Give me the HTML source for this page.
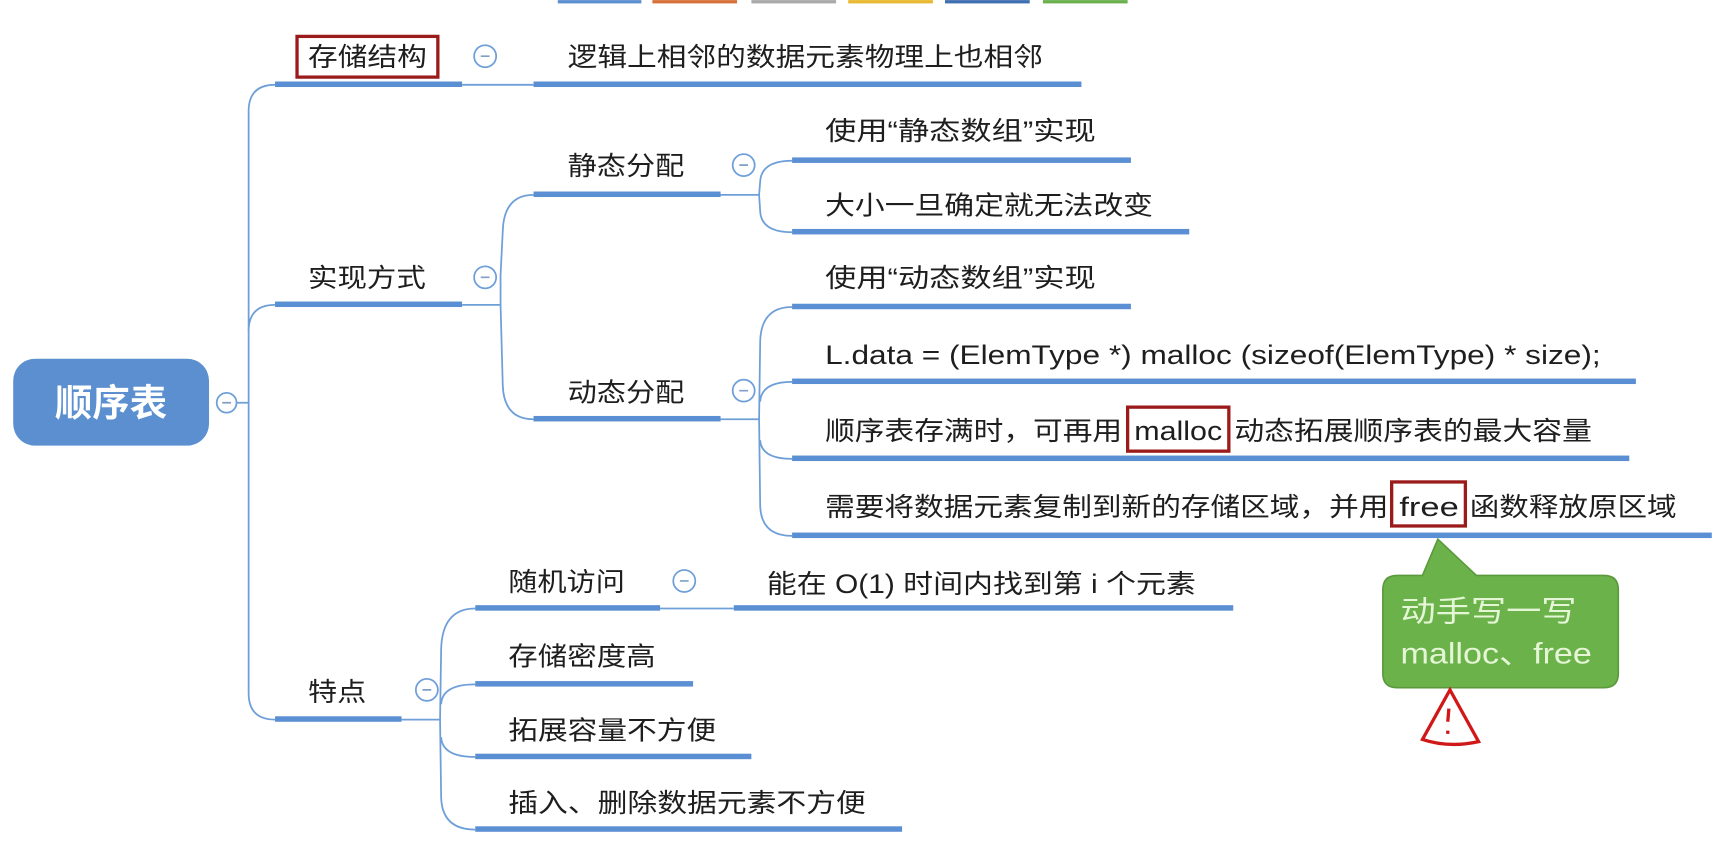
<!DOCTYPE html>
<html><head><meta charset="utf-8"><style>
html,body{margin:0;padding:0;background:#fff;width:1725px;height:844px;overflow:hidden}
svg{display:block}
text{font-family:"Liberation Sans","Noto Sans CJK SC",sans-serif;fill:#1e1e1e;font-size:24px}
</style></head><body>
<svg width="1725" height="844" viewBox="0 0 1568 767" xmlns="http://www.w3.org/2000/svg">
<g>
<rect x="507" y="0" width="76" height="3" fill="#5b8fd0"/>
<rect x="593" y="0" width="77" height="3" fill="#d9703a"/>
<rect x="683" y="0" width="77" height="3" fill="#aaaaaa"/>
<rect x="771" y="0" width="77" height="3" fill="#e8b830"/>
<rect x="859" y="0" width="77" height="3" fill="#3f6fb0"/>
<rect x="948" y="0" width="77" height="3" fill="#6ab04c"/>
</g>
<g fill="none" stroke="#6f9fd8" stroke-width="1.6">
<path d="M215,366 L226,366"/>
<path d="M250,77 Q226,77 226,101 L226,630 Q226,654 250,654"/>
<path d="M226,301 Q226,277 250,277"/>
<path d="M420,77 L485,77"/>
<path d="M420,277 L455,277"/>
<path d="M485,177 Q458,177 457,210 L455,250 Q455,277 455,277 M455,277 L457,350 Q458,381 485,381"/>
<path d="M655,177 L690,177 M720,146 Q692,146 691,165 L690,177 L691,192 Q692,211 720,211"/>
<path d="M655,381 L690,381 M720,279 Q692,279 691,310 L690,381 L691,460 Q692,487 720,487 M720,347 Q692,347 691,365 M720,417 Q692,417 691,400"/>
<path d="M365,654 L400,654 M432,553 Q402,553 401,590 L400,654 L401,725 Q402,754 432,754 M432,622 Q402,622 401,640 M432,688 Q402,688 401,670"/>
<path d="M600,553 L667,553"/>
</g>
<g fill="#5b8fd3">
<rect x="250" y="74" width="170" height="5"/>
<rect x="485" y="74" width="498" height="5"/>
<rect x="250" y="274" width="170" height="5"/>
<rect x="485" y="174" width="170" height="5"/>
<rect x="720" y="143" width="308" height="5"/>
<rect x="720" y="208" width="361" height="5"/>
<rect x="485" y="378" width="170" height="5"/>
<rect x="720" y="276" width="308" height="5"/>
<rect x="720" y="344" width="767" height="5"/>
<rect x="720" y="414" width="761" height="5"/>
<rect x="720" y="484" width="836" height="5"/>
<rect x="250" y="651" width="115" height="5"/>
<rect x="432" y="550" width="168" height="5"/>
<rect x="667" y="550" width="454" height="5"/>
<rect x="432" y="619" width="198" height="5"/>
<rect x="432" y="685" width="251" height="5"/>
<rect x="432" y="751" width="388" height="5"/>
</g>
<rect x="12" y="326" width="178" height="79" rx="20" fill="#5b8fd0"/>
<text x="101" y="378" text-anchor="middle" style="fill:#fff;font-size:34px;font-weight:bold">顺序表</text>
<g fill="#fff" stroke="#6f9fd8" stroke-width="1.6">
<circle cx="206" cy="366" r="9"/><circle cx="441" cy="51" r="10"/><circle cx="441" cy="252" r="10"/>
<circle cx="676" cy="150" r="10"/><circle cx="676" cy="355" r="10"/><circle cx="622" cy="528" r="10"/><circle cx="388" cy="627" r="10"/>
</g>
<g stroke="#7f9fc8" stroke-width="1.5">
<path d="M202,366h8M437,51h8M437,252h8M672,150h8M672,355h8M618,528h8M384,627h8"/>
</g>
<rect x="270" y="33" width="128" height="37" fill="none" stroke="#9b1b1b" stroke-width="3"/>
<rect x="1025" y="370" width="92" height="40" fill="none" stroke="#9b1b1b" stroke-width="3"/>
<rect x="1265" y="438" width="67" height="40" fill="none" stroke="#9b1b1b" stroke-width="3"/>
<text x="280" y="60" textLength="108" lengthAdjust="spacingAndGlyphs">存储结构</text>
<text x="516" y="60" textLength="432" lengthAdjust="spacingAndGlyphs">逻辑上相邻的数据元素物理上也相邻</text>
<text x="280" y="261" textLength="107" lengthAdjust="spacingAndGlyphs">实现方式</text>
<text x="516" y="159" textLength="106" lengthAdjust="spacingAndGlyphs">静态分配</text>
<text x="750" y="127" textLength="246" lengthAdjust="spacingAndGlyphs">使用“静态数组”实现</text>
<text x="750" y="195" textLength="298" lengthAdjust="spacingAndGlyphs">大小一旦确定就无法改变</text>
<text x="516" y="365" textLength="106" lengthAdjust="spacingAndGlyphs">动态分配</text>
<text x="750" y="261" textLength="246" lengthAdjust="spacingAndGlyphs">使用“动态数组”实现</text>
<text x="750" y="331" textLength="705" lengthAdjust="spacingAndGlyphs">L.data = (ElemType *) malloc (sizeof(ElemType) * size);</text>
<text x="750" y="400" textLength="270" lengthAdjust="spacingAndGlyphs">顺序表存满时，可再用</text>
<text x="1031" y="400" textLength="80" lengthAdjust="spacingAndGlyphs">malloc</text>
<text x="1122" y="400" textLength="325" lengthAdjust="spacingAndGlyphs">动态拓展顺序表的最大容量</text>
<text x="750" y="469" textLength="512" lengthAdjust="spacingAndGlyphs">需要将数据元素复制到新的存储区域，并用</text>
<text x="1272" y="469" textLength="54" lengthAdjust="spacingAndGlyphs">free</text>
<text x="1336" y="469" textLength="188" lengthAdjust="spacingAndGlyphs">函数释放原区域</text>
<text x="280" y="637" textLength="53" lengthAdjust="spacingAndGlyphs">特点</text>
<text x="462" y="537" textLength="106" lengthAdjust="spacingAndGlyphs">随机访问</text>
<text x="697" y="539" textLength="390" lengthAdjust="spacingAndGlyphs">能在 O(1) 时间内找到第 i 个元素</text>
<text x="462" y="605" textLength="134" lengthAdjust="spacingAndGlyphs">存储密度高</text>
<text x="462" y="672" textLength="189" lengthAdjust="spacingAndGlyphs">拓展容量不方便</text>
<text x="462" y="738" textLength="325" lengthAdjust="spacingAndGlyphs">插入、删除数据元素不方便</text>
<path d="M1307,490 L1342,523 L1458,523 Q1471,523 1471,536 L1471,612 Q1471,625 1458,625 L1270,625 Q1257,625 1257,612 L1257,536 Q1257,523 1270,523 L1293,523 Z" fill="#6cb24a" stroke="#5a9a3c" stroke-width="1.5"/>
<text x="1273" y="565" textLength="160" lengthAdjust="spacingAndGlyphs" style="fill:#e4f6d6;font-size:27px">动手写一写</text>
<text x="1273" y="603" textLength="174" lengthAdjust="spacingAndGlyphs" style="fill:#e4f6d6;font-size:27px">malloc、free</text>
<path d="M1318,627 L1293,672 Q1317,680 1344,674 Z" fill="none" stroke="#d01818" stroke-width="3"/>
<path d="M1317,644 L1316,656 M1316,664 L1316,667" stroke="#d01818" stroke-width="3"/>
</svg>
</body></html>
